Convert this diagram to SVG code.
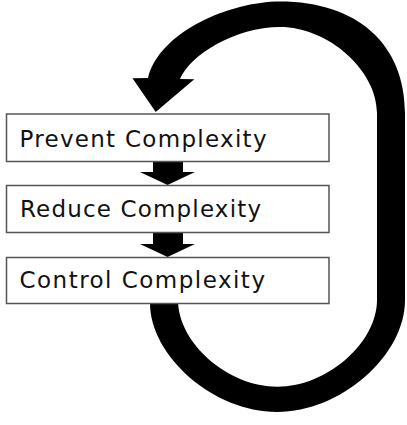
<svg xmlns="http://www.w3.org/2000/svg" width="407" height="425" viewBox="0 0 407 425">
<style>
.box{fill:#fff;stroke:#555;stroke-width:1.5}
.lbl{font-family:"DejaVu Sans","Liberation Sans",Arial,sans-serif;font-size:23px;fill:#111}
.conn{fill:#000;stroke:none}
</style>
<rect width="407" height="425" fill="#fff"/>
<g id="connectors">
<path id="loop" class="conn" d="M150 303 C150 356 213.5 412 277 412 C340.5 412 405 356 405 300 L405 113 C405 44 357 1.5 280 1.5 C230 1.5 159 32 148 78 L132.5 78.3 L155.7 112 L194.3 79.3 L180 79 C190 55 235 27 280 27 C328 27 377 70 377 113 L377 300 C377 343 327 386.7 277.5 386.7 C227.7 386.7 178 343 178 300 L178 303 Z"/>
<path id="arrow1" class="conn" d="M153 161 H183 V172 H195 L167.5 185 L140 172 H153 Z"/>
<path id="arrow2" class="conn" d="M153 232 H183 V244 H195 L167.5 257 L140 244 H153 Z"/>
</g>
<g id="prevent">
<rect class="box" x="6.5" y="114" width="322.5" height="47.5"/>
<text class="lbl" x="19.5" y="147" textLength="247" lengthAdjust="spacing">Prevent Complexity</text>
</g>
<g id="reduce">
<rect class="box" x="6.5" y="185.5" width="322.5" height="47"/>
<text class="lbl" x="20" y="217" textLength="241" lengthAdjust="spacing">Reduce Complexity</text>
</g>
<g id="control">
<rect class="box" x="6.5" y="257.5" width="322.5" height="46"/>
<text class="lbl" x="19.5" y="287.5" textLength="245.5" lengthAdjust="spacing">Control Complexity</text>
</g>
</svg>
